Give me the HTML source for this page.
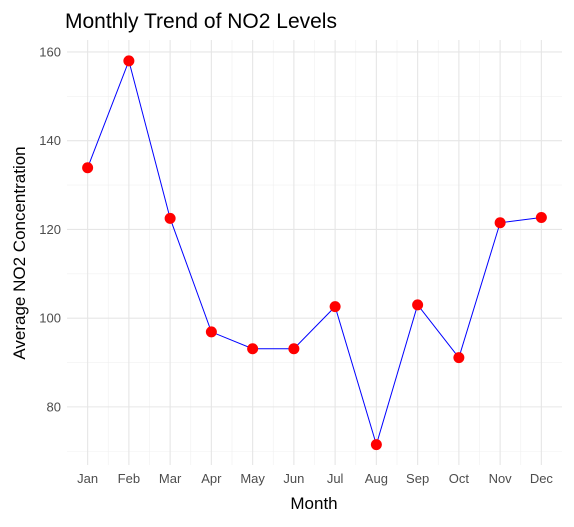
<!DOCTYPE html>
<html><head><meta charset="utf-8"><style>
body{margin:0;background:#fff;font-family:"Liberation Sans",sans-serif}
</style></head><body>
<svg id="chart" width="574" height="522" xmlns="http://www.w3.org/2000/svg" font-family="Liberation Sans, sans-serif">
<text x="65" y="28" font-size="21" fill="#000">Monthly Trend of NO2 Levels</text>
<text transform="translate(25,253) rotate(-90)" text-anchor="middle" font-size="17" fill="#000">Average NO2 Concentration</text>
<text x="314" y="509" text-anchor="middle" font-size="17" fill="#000">Month</text>
<g id="grid"></g><g id="marks"></g><g id="labels"></g>
</svg>
<script>
const months=["Jan","Feb","Mar","Apr","May","Jun","Jul","Aug","Sep","Oct","Nov","Dec"];
const no2=[133.9,158.0,122.5,96.9,93.1,93.1,102.6,71.5,103.0,91.1,121.5,122.7];
const yTicks=[80,100,120,140,160];
const yMinor=[70,90,110,130,150];
const L=67,R=562,T=40,B=465,yMin=66.9,yMax=162.7;
const xs=i=>L+(R-L)*(i+0.5)/months.length;
const ys=v=>B-(v-yMin)/(yMax-yMin)*(B-T);
const ns="http://www.w3.org/2000/svg";
const mk=(t,a,p)=>{const e=document.createElementNS(ns,t);for(const k in a)e.setAttribute(k,a[k]);p.appendChild(e);return e;};
const g=document.getElementById('grid'),m=document.getElementById('marks'),lb=document.getElementById('labels');
yMinor.forEach(v=>{const l=mk('line',{x1:L,x2:R,y1:ys(v),y2:ys(v),stroke:'#f0f0f0','stroke-width':0.6},g);

});
months.forEach((mo,i)=>{if(i<months.length-1){const l=mk('line',{x1:(xs(i)+xs(i+1))/2,x2:(xs(i)+xs(i+1))/2,y1:T,y2:B,stroke:'#f0f0f0','stroke-width':0.6},g);

}});
yTicks.forEach(v=>{const l=mk('line',{x1:L,x2:R,y1:ys(v),y2:ys(v),stroke:'#e6e6e6','stroke-width':1.1},g);


const t=mk('text',{x:L-6,y:ys(v)+4.5,'text-anchor':'end','font-size':13,fill:'#4d4d4d'},lb);t.textContent=v;

});
months.forEach((mo,i)=>{const l=mk('line',{x1:xs(i),x2:xs(i),y1:T,y2:B,stroke:'#e6e6e6','stroke-width':1.1},g);


const t=mk('text',{x:xs(i),y:B+18,'text-anchor':'middle','font-size':13,fill:'#4d4d4d'},lb);t.textContent=mo;

});
const pl=mk('polyline',{points:no2.map((v,i)=>xs(i)+','+ys(v)).join(' '),fill:'none',stroke:'#0000ff','stroke-width':1},m);


no2.forEach((v,i)=>{const c=mk('circle',{cx:xs(i),cy:ys(v),r:5.5,fill:'#ff0000'},m);

});
</script>
</body></html>
